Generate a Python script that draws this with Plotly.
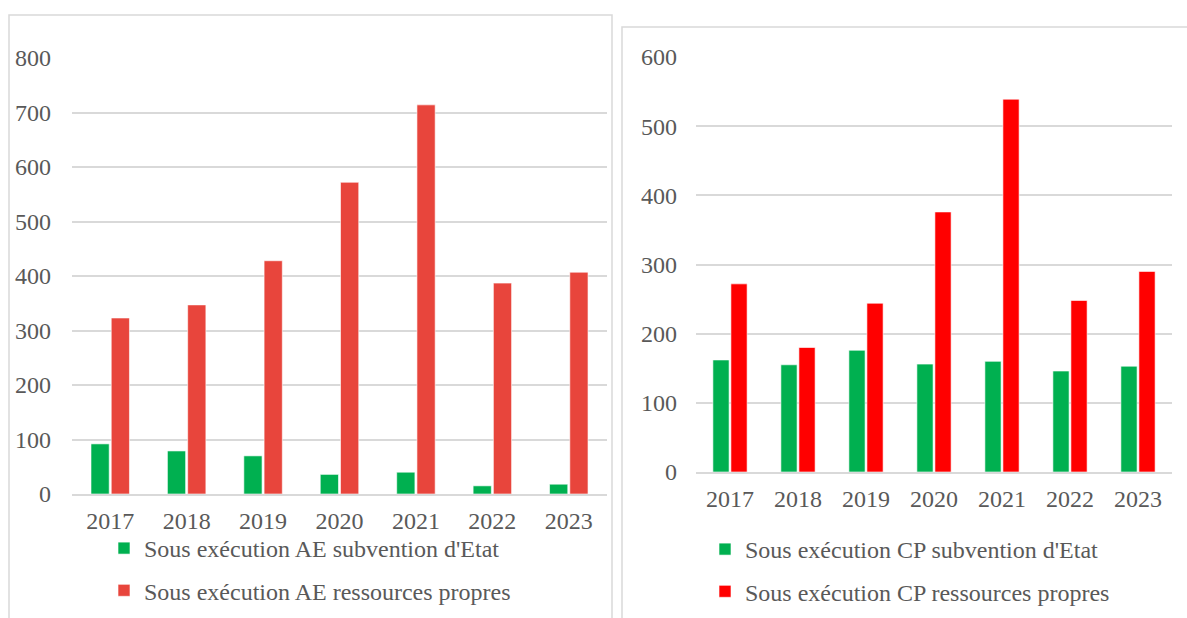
import plotly.graph_objects as go

years = ["2017", "2018", "2019", "2020", "2021", "2022", "2023"]
ae_subvention = [92, 79, 70, 36, 40, 15, 18]
ae_propres = [323, 347, 428, 572, 714, 387, 407]
cp_subvention = [162, 155, 176, 156, 160, 146, 153]
cp_propres = [272, 180, 244, 376, 539, 248, 290]

W, H = 1187, 618
FONT = "Liberation Serif"
GRAY = "#595959"
GRID = "#D9D9D9"

def px(x):
    return x / W

def py(y):
    return 1 - y / H

fig = go.Figure()

edge = dict(color="rgba(255,255,255,0.6)", width=1)
fig.add_trace(go.Bar(x=years, y=ae_subvention, name="Sous exécution AE subvention d'Etat",
                     marker=dict(color="#00B050", line=edge),
                     xaxis="x", yaxis="y", legend="legend", legendgroup="a1"))
fig.add_trace(go.Bar(x=years, y=ae_propres, name="Sous exécution AE ressources propres",
                     marker=dict(color="#E8453C", line=edge),
                     xaxis="x", yaxis="y", legend="legend", legendgroup="a2"))
fig.add_trace(go.Bar(x=years, y=cp_subvention, name="Sous exécution CP subvention d'Etat",
                     marker=dict(color="#00B050", line=edge),
                     xaxis="x2", yaxis="y2", legend="legend2", legendgroup="c1"))
fig.add_trace(go.Bar(x=years, y=cp_propres, name="Sous exécution CP ressources propres",
                     marker=dict(color="#FF0000", line=edge),
                     xaxis="x2", yaxis="y2", legend="legend2", legendgroup="c2"))

axfont = dict(family=FONT, size=24, color=GRAY)
legfont = dict(family=FONT, size=24, color=GRAY)

xcommon = dict(type="category", showgrid=False, showline=True, linecolor=GRID, linewidth=2,
               ticks="", tickfont=axfont, fixedrange=True, ticklabelstandoff=4, automargin=False)
ycommon = dict(showgrid=True, gridcolor=GRID, gridwidth=2, zeroline=False, showline=False,
               ticks="", tickfont=axfont, fixedrange=True, automargin=False)

fig.update_layout(
    width=W, height=H,
    margin=dict(l=0, r=0, t=0, b=0, autoexpand=False),
    paper_bgcolor="white", plot_bgcolor="white",
    barmode="group", bargap=0.47, bargroupgap=0.1,
    showlegend=True,
    xaxis=dict(domain=[px(72), px(607)], anchor="y", **xcommon),
    yaxis=dict(domain=[py(494), py(58)], anchor="x", range=[0, 800], dtick=100,
               ticklabelstandoff=20, **ycommon),
    xaxis2=dict(domain=[px(696), px(1172)], anchor="y2", **xcommon),
    yaxis2=dict(domain=[py(472), py(57)], anchor="x2", range=[0, 600], dtick=100,
                ticklabelstandoff=18, **ycommon),
    legend=dict(x=px(104), y=py(526), xanchor="left", yanchor="top",
                font=legfont, tracegroupgap=8,
                bgcolor="rgba(0,0,0,0)", itemclick=False, itemdoubleclick=False),
    legend2=dict(x=px(705), y=py(527), xanchor="left", yanchor="top",
                 font=legfont, tracegroupgap=8,
                 bgcolor="rgba(0,0,0,0)", itemclick=False, itemdoubleclick=False),
    shapes=[
        dict(type="rect", xref="paper", yref="paper", x0=px(9), x1=px(612), y0=-0.05, y1=py(15),
             line=dict(color=GRID, width=1.5), fillcolor="rgba(0,0,0,0)", layer="below"),
        dict(type="rect", xref="paper", yref="paper", x0=px(622), x1=1.05, y0=-0.05, y1=py(27),
             line=dict(color=GRID, width=1.5), fillcolor="rgba(0,0,0,0)", layer="below"),
    ],
)

fig.write_html("out.html", config={"displayModeBar": False, "staticPlot": False},
               post_script="document.body.style.margin='0';document.body.style.overflow='hidden';")
